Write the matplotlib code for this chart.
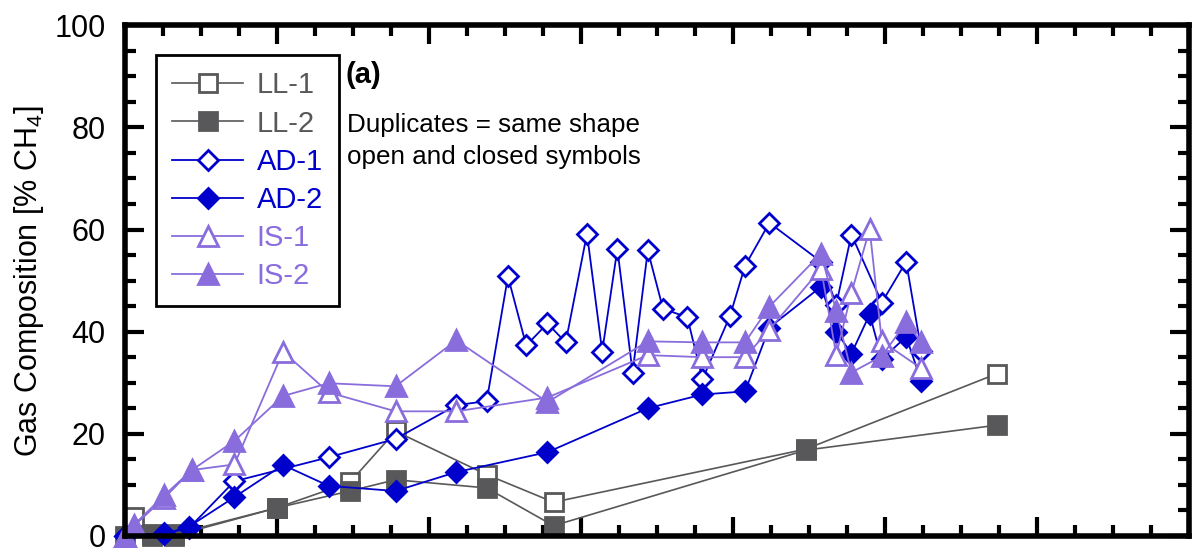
import matplotlib.pyplot as plt
from matplotlib import font_manager
from matplotlib.ticker import MultipleLocator, NullFormatter

# pick a narrow sans if one is around
names = {f.name for f in font_manager.fontManager.ttflist}
family = 'Liberation Sans Narrow' if 'Liberation Sans Narrow' in names else 'Liberation Sans'
plt.rcParams['font.family'] = [family, 'DejaVu Sans']
plt.rcParams['mathtext.fontset'] = 'custom'
plt.rcParams['mathtext.rm'] = family

# time axis in days, methane content in %
ll1_x = [3, 9, 16, 50, 74, 89, 119, 141, 224, 287]
ll1_y = [3.7, 0.3, 0.3, 5.5, 10.5, 20.5, 12.0, 6.6, 17.0, 31.8]
ll2_x = [0, 9, 16, 50, 74, 89, 119, 141, 224, 287]
ll2_y = [0.0, 0.0, 0.0, 5.5, 8.8, 11.0, 9.4, 2.0, 16.8, 21.7]

ad1_x = [0, 13, 21, 36, 67, 89, 109, 119, 126, 132, 139, 145, 152, 157, 162,
         167, 172, 177, 185, 190, 199, 204, 212, 229, 234, 239, 249, 257, 262]
ad1_y = [0.0, 0.5, 1.5, 10.7, 15.4, 19.0, 25.6, 26.4, 50.8, 37.3, 41.6, 37.9,
         59.2, 36.1, 56.2, 32.0, 55.9, 44.5, 42.8, 30.7, 43.0, 52.9, 61.3,
         53.7, 45.3, 59.0, 45.7, 53.7, 36.3]
ad2_x = [0, 13, 21, 36, 52, 67, 89, 109, 139, 172, 190, 204, 212, 229, 234,
         239, 245, 249, 257, 262]
ad2_y = [0.0, 0.4, 1.8, 7.6, 13.9, 9.8, 8.8, 12.5, 16.4, 25.0, 27.7, 28.3,
         40.8, 48.8, 40.0, 35.7, 43.4, 34.6, 39.0, 30.3]

is1_x = [0, 3, 13, 22, 36, 52, 67, 89, 109, 139, 172, 190, 204, 212, 229,
         234, 239, 245, 249, 262]
is1_y = [0.0, 2.0, 7.5, 12.9, 14.0, 36.1, 28.1, 24.4, 24.4, 27.1, 35.4, 35.0,
         35.0, 40.4, 52.3, 35.5, 47.6, 60.1, 38.1, 32.8]
is2_x = [0, 3, 13, 22, 36, 52, 67, 89, 109, 139, 172, 190, 204, 212, 229,
         234, 239, 249, 257, 262]
is2_y = [0.0, 2.2, 8.0, 12.9, 18.6, 27.4, 29.9, 29.3, 38.3, 26.2, 38.1, 37.9,
         37.9, 44.9, 55.3, 44.0, 32.0, 35.2, 41.8, 37.9]

gray = '#58585a'
blue = '#0000cc'
purple = '#8a6ddc'

fig = plt.figure(figsize=(11.96, 5.48), dpi=100)
ax = fig.add_axes([0.1045, 0.022, 0.8895, 0.932])

common = dict(clip_on=False, markeredgewidth=2)
ax.plot(ll1_x, ll1_y, '-s', color=gray, lw=1.2, ms=12.5, mfc='white',
        mec=gray, label='LL-1', **common)
ax.plot(ll2_x, ll2_y, '-s', color=gray, lw=1.2, ms=12.5, mfc=gray,
        mec=gray, label='LL-2', **common)
ax.plot(ad1_x, ad1_y, '-D', color=blue, lw=1.3, ms=10, mfc='white',
        mec=blue, label='AD-1', **common)
ax.plot(ad2_x, ad2_y, '-D', color=blue, lw=1.3, ms=10, mfc=blue,
        mec=blue, label='AD-2', **common)
ax.plot(is1_x, is1_y, '-^', color=purple, lw=1.3, ms=14, mfc='white',
        mec=purple, label='IS-1', **common)
ax.plot(is2_x, is2_y, '-^', color=purple, lw=1.3, ms=14, mfc=purple,
        mec=purple, label='IS-2', **common)

ax.set_xlim(0, 350)
ax.set_ylim(0, 100)
ax.xaxis.set_major_locator(MultipleLocator(50))
ax.xaxis.set_minor_locator(MultipleLocator(12.5))
ax.xaxis.set_major_formatter(NullFormatter())
ax.yaxis.set_major_locator(MultipleLocator(20))
ax.yaxis.set_minor_locator(MultipleLocator(5))
ax.tick_params(which='both', direction='in', top=True, right=True,
               width=3, labelsize=22)
ax.tick_params(which='major', length=14, pad=14)
ax.tick_params(which='minor', length=8)
for sp in ax.spines.values():
    sp.set_linewidth(4)

ax.set_ylabel('Gas Composition [% CH$_4$]', fontsize=22, labelpad=6)

leg = ax.legend(loc='upper left', bbox_to_anchor=(0.029, 0.941),
                borderaxespad=0, fontsize=21, handlelength=2.45,
                handletextpad=0.45, labelspacing=0.35, borderpad=0.55,
                fancybox=False, edgecolor='black', framealpha=1)
leg.get_frame().set_linewidth(2)
for txt, c in zip(leg.get_texts(), [gray, gray, blue, blue, purple, purple]):
    txt.set_color(c)

ax.text(0.207, 0.887, '(a)', transform=ax.transAxes, fontsize=21,
        fontweight='bold', va='baseline')
ax.text(0.2086, 0.791, 'Duplicates = same shape', transform=ax.transAxes,
        fontsize=18.7, va='baseline')
ax.text(0.2086, 0.729, 'open and closed symbols', transform=ax.transAxes,
        fontsize=18.7, va='baseline')

fig.savefig('out.png', dpi=100)
